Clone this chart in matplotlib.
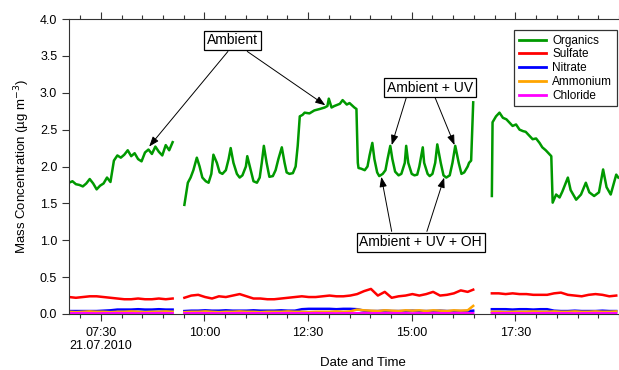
import numpy as np
import pandas as pd
import matplotlib
matplotlib.use("Agg")
import matplotlib.pyplot as plt
import matplotlib.dates as mdates

plt.rcParams["font.family"] = ["Liberation Sans", "DejaVu Sans"]

day = "2010-07-21 "

# organics (green), None marks a gap in the measurement
org_time = [
    "06:44", "06:49", "06:54", "06:59", "07:04", "07:09", "07:14", "07:19",
    "07:24", "07:29", "07:34", "07:39", "07:44", "07:49", "07:54", "07:59",
    "08:04", "08:09", "08:14", "08:19", "08:24", "08:29", "08:34", "08:39",
    "08:44", "08:49", "08:54", "08:59", "09:04", "09:09", "09:14",
    "09:20",
    "09:31", "09:33", "09:36", "09:40", "09:44", "09:49", "09:53", "09:57",
    "10:02", "10:06", "10:10", "10:13", "10:18", "10:22", "10:26", "10:31",
    "10:35", "10:38", "10:42", "10:47", "10:51", "10:55", "11:00", "11:02",
    "11:07", "11:11", "11:16", "11:20", "11:23", "11:26", "11:30", "11:34",
    "11:39", "11:43", "11:47", "11:52", "11:56", "11:59", "12:03", "12:08",
    "12:12", "12:15", "12:18", "12:22", "12:25", "12:32", "12:39", "12:47",
    "12:54", "12:58", "13:00", "13:04", "13:08", "13:16", "13:20", "13:26",
    "13:30", "13:37", "13:40", "13:42", "13:43", "13:47", "13:52", "13:56",
    "13:59", "14:03", "14:06", "14:10", "14:13", "14:18", "14:22", "14:25",
    "14:29", "14:32", "14:36", "14:41", "14:45", "14:50", "14:52", "14:55",
    "15:00", "15:04", "15:08", "15:11", "15:16", "15:18", "15:23", "15:26",
    "15:30", "15:34", "15:37", "15:42", "15:46", "15:50", "15:55", "15:59",
    "16:03", "16:08", "16:12", "16:16", "16:21", "16:23", "16:26", "16:29",
    "16:40",
    "16:56", "16:57", "17:02", "17:07", "17:12", "17:17", "17:21", "17:26",
    "17:31", "17:36", "17:41", "17:45", "17:50", "17:55", "18:00", "18:05",
    "18:09", "18:14", "18:19", "18:22", "18:24", "18:29", "18:34", "18:38",
    "18:46", "18:50", "18:58", "19:05", "19:12", "19:17", "19:24", "19:31",
    "19:37", "19:42", "19:48", "19:56", "19:59",
]
org_conc = [
    1.78, 1.80, 1.76, 1.75, 1.73, 1.77, 1.83, 1.77,
    1.69, 1.74, 1.77, 1.85, 1.79, 2.08, 2.15, 2.12,
    2.16, 2.22, 2.14, 2.18, 2.10, 2.07, 2.19, 2.23,
    2.17, 2.27, 2.20, 2.15, 2.29, 2.22, 2.33,
    None,
    1.48, 1.60, 1.78, 1.85, 1.95, 2.12, 2.00, 1.85,
    1.80, 1.78, 1.90, 2.16, 2.05, 1.92, 1.90, 1.95,
    2.10, 2.25, 2.05, 1.90, 1.85, 1.88, 2.00, 2.14,
    1.95, 1.80, 1.78, 1.85, 2.05, 2.28, 2.05, 1.86,
    1.87, 1.95, 2.10, 2.26, 2.05, 1.92, 1.90, 1.91,
    2.00, 2.28, 2.68, 2.70, 2.73, 2.72, 2.76, 2.78,
    2.80, 2.82, 2.92, 2.80, 2.82, 2.85, 2.90, 2.84,
    2.86, 2.80, 2.78, 2.05, 1.98, 1.97, 1.95, 2.00,
    2.15, 2.32, 2.10, 1.92, 1.87, 1.90, 1.95, 2.10,
    2.28, 2.10, 1.93, 1.88, 1.90, 2.05, 2.28, 2.05,
    1.90, 1.88, 1.89, 2.00, 2.26, 2.05, 1.90, 1.87,
    1.90, 2.05, 2.30, 2.05, 1.88, 1.85, 1.88, 2.05,
    2.28, 2.05, 1.90, 1.92, 2.00, 2.05, 2.08, 2.87,
    None,
    1.60, 2.60, 2.68, 2.73, 2.66, 2.64, 2.60, 2.55,
    2.57, 2.50, 2.48, 2.47, 2.42, 2.37, 2.38, 2.32,
    2.26, 2.22, 2.17, 2.14, 1.51, 1.62, 1.58, 1.66,
    1.85, 1.68, 1.55, 1.62, 1.78, 1.65, 1.60, 1.65,
    1.96, 1.72, 1.62, 1.89, 1.85,
]

# inorganic species on a common 10 min grid
inorg_time = [
    "06:44", "06:54", "07:04", "07:14", "07:24", "07:34", "07:44", "07:54",
    "08:04", "08:14", "08:24", "08:34", "08:44", "08:54", "09:04", "09:14",
    "09:20",
    "09:31", "09:41", "09:51", "10:01", "10:11", "10:21", "10:31", "10:41",
    "10:51", "11:01", "11:11", "11:21", "11:31", "11:41", "11:51", "12:01",
    "12:11", "12:21", "12:31", "12:41", "12:51", "13:01", "13:11", "13:21",
    "13:31", "13:41", "13:51", "14:01", "14:11", "14:21", "14:31", "14:41",
    "14:51", "15:01", "15:11", "15:21", "15:31", "15:41", "15:51", "16:01",
    "16:11", "16:21", "16:29",
    "16:40",
    "16:56", "17:06", "17:16", "17:26", "17:36", "17:46", "17:56", "18:06",
    "18:16", "18:26", "18:36", "18:46", "18:56", "19:06", "19:16", "19:26",
    "19:36", "19:46", "19:56",
]
sulfate = [
    0.23, 0.22, 0.23, 0.24, 0.24, 0.23, 0.22, 0.21,
    0.20, 0.20, 0.21, 0.20, 0.20, 0.21, 0.20, 0.21,
    None,
    0.22, 0.25, 0.26, 0.23, 0.21, 0.24, 0.23, 0.25,
    0.27, 0.24, 0.21, 0.21, 0.20, 0.20, 0.21, 0.22,
    0.23, 0.24, 0.23, 0.23, 0.24, 0.25, 0.24, 0.24,
    0.25, 0.27, 0.31, 0.34, 0.25, 0.30, 0.22, 0.24,
    0.25, 0.27, 0.25, 0.27, 0.30, 0.25, 0.26, 0.28,
    0.32, 0.30, 0.33,
    None,
    0.28, 0.28, 0.27, 0.28, 0.27, 0.27, 0.26, 0.26,
    0.26, 0.28, 0.29, 0.26, 0.25, 0.24, 0.26, 0.27,
    0.26, 0.24, 0.25,
]
nitrate = [
    0.04, 0.04, 0.04, 0.04, 0.04, 0.045, 0.05, 0.06,
    0.06, 0.06, 0.065, 0.06, 0.06, 0.065, 0.06, 0.06,
    None,
    0.04, 0.045, 0.045, 0.05, 0.045, 0.045, 0.05, 0.045,
    0.045, 0.045, 0.05, 0.045, 0.045, 0.045, 0.05, 0.045,
    0.045, 0.065, 0.07, 0.07, 0.07, 0.07, 0.065, 0.07,
    0.07, 0.065, 0.045, 0.04, 0.04, 0.045, 0.04, 0.04,
    0.04, 0.045, 0.04, 0.04, 0.04, 0.045, 0.04, 0.04,
    0.04, 0.04, 0.045,
    None,
    0.065, 0.065, 0.065, 0.06, 0.065, 0.065, 0.06, 0.065,
    0.065, 0.045, 0.04, 0.04, 0.045, 0.04, 0.04, 0.04,
    0.045, 0.04, 0.04,
]
ammonium = [
    0.03, 0.025, 0.03, 0.035, 0.03, 0.03, 0.025, 0.03,
    0.03, 0.035, 0.03, 0.025, 0.03, 0.03, 0.035, 0.03,
    None,
    0.025, 0.03, 0.03, 0.035, 0.03, 0.025, 0.03, 0.03,
    0.035, 0.03, 0.03, 0.025, 0.03, 0.03, 0.03, 0.035,
    0.03, 0.03, 0.025, 0.03, 0.03, 0.03, 0.035, 0.03,
    0.035, 0.06, 0.05, 0.045, 0.04, 0.05, 0.045, 0.04,
    0.05, 0.045, 0.05, 0.04, 0.05, 0.045, 0.04, 0.05,
    0.045, 0.05, 0.11,
    None,
    0.03, 0.03, 0.025, 0.03, 0.03, 0.03, 0.035, 0.03,
    0.03, 0.035, 0.03, 0.03, 0.035, 0.03, 0.03, 0.035,
    0.03, 0.03, 0.035,
]
chloride = [
    0.01, 0.01, 0.012, 0.01, 0.008, 0.01, 0.01, 0.012,
    0.01, 0.01, 0.008, 0.01, 0.01, 0.012, 0.01, 0.01,
    None,
    0.01, 0.01, 0.012, 0.01, 0.01, 0.008, 0.01, 0.01,
    0.012, 0.01, 0.01, 0.01, 0.008, 0.01, 0.01, 0.012,
    0.01, 0.01, 0.01, 0.012, 0.01, 0.01, 0.008, 0.01,
    0.01, 0.01, 0.012, 0.01, 0.01, 0.01, 0.012, 0.01,
    0.01, 0.008, 0.01, 0.01, 0.012, 0.01, 0.01, 0.01,
    0.012, 0.01, 0.01,
    None,
    0.01, 0.01, 0.012, 0.01, 0.01, 0.008, 0.01, 0.01,
    0.012, 0.01, 0.01, 0.01, 0.008, 0.01, 0.01, 0.012,
    0.01, 0.01, 0.01,
]

species = ["Organics", "Sulfate", "Nitrate", "Ammonium", "Chloride"]
colors = ["#009900", "#ff0000", "#0000ff", "#ffa500", "#ff00ff"]


def to_time(times):
    return pd.to_datetime([day + t for t in times])


def tnum(t):
    return mdates.date2num(pd.Timestamp(day + t))


fig = plt.figure(figsize=(6.19, 3.70), dpi=100)
ax = fig.add_axes([69 / 619, 56 / 370, 550 / 619, 295 / 370])

ax.plot(to_time(org_time), np.array(org_conc, dtype=float),
        color=colors[0], lw=1.8, label=species[0])
inorg = [sulfate, nitrate, ammonium, chloride]
for name, col, vals in zip(species[1:], colors[1:], inorg):
    ax.plot(to_time(inorg_time), np.array(vals, dtype=float),
            color=col, lw=1.8, label=name)

ax.set_xlim(tnum("06:44"), tnum("20:00"))
ax.set_ylim(0, 4.0)
ax.set_yticks(np.arange(0, 4.01, 0.5))
ax.yaxis.set_major_formatter(plt.FormatStrFormatter("%.1f"))

major = pd.date_range(day + "07:30", periods=5, freq="150min")
ax.xaxis.set_major_locator(plt.FixedLocator(mdates.date2num(major)))
ax.xaxis.set_minor_locator(mdates.MinuteLocator(byminute=[0, 30]))
labels = [t.strftime("%H:%M") for t in major]
labels[0] = labels[0] + "\n21.07.2010"
ax.set_xticklabels(labels)

ax.spines["right"].set_visible(False)
for s in ["left", "bottom", "top"]:
    ax.spines[s].set_color("#333333")
    ax.spines[s].set_linewidth(0.8)
ax.tick_params(axis="x", which="major", direction="out", length=5,
               top=True, labelsize=9, width=0.8, color="#333333", pad=4)
ax.tick_params(axis="x", which="minor", direction="out", length=3,
               top=True, width=0.8, color="#333333")
ax.tick_params(axis="y", direction="out", length=5, labelsize=9,
               width=0.8, color="#333333")

ax.set_xlabel("Date and Time", fontsize=9.5)
ax.xaxis.set_label_coords((363 - 69) / 550, -0.145)
ax.set_ylabel("Mass Concentration (µg m$^{-3}$)", fontsize=9.5)
ax.yaxis.set_label_coords(-0.068, 0.5)

leg = ax.legend(loc="upper right", bbox_to_anchor=(0.996, 0.963), fontsize=8.5,
                frameon=True, fancybox=False, edgecolor="black",
                handlelength=2.3, labelspacing=0.15, borderpad=0.4,
                handletextpad=0.5, borderaxespad=0)
leg.get_frame().set_linewidth(0.9)
for h in leg.get_lines():
    h.set_linewidth(2)

box = dict(boxstyle="square,pad=0.2", fc="white", ec="black", lw=0.9)
arrow = dict(arrowstyle="-|>,head_length=0.6,head_width=0.22",
             color="black", lw=0.7, shrinkA=0, shrinkB=0)

notes = [
    ("Ambient", ("10:41", 3.71), [(("10:34", 3.56), ("08:40", 2.27)),
                                   (("11:02", 3.56), ("12:55", 2.83))]),
    ("Ambient + UV", ("15:26", 3.07), [(("14:52", 2.93), ("14:31", 2.29)),
                                        (("15:34", 2.93), ("16:02", 2.29))]),
    ("Ambient + UV + OH", ("15:13", 0.97), [(("14:31", 1.12), ("14:16", 1.86)),
                                             (("15:22", 1.12), ("15:47", 1.85))]),
]
for text, (tt, tv), arrows in notes:
    for (st, sv), (et, ev) in arrows:
        ax.annotate("", xy=(tnum(et), ev), xytext=(tnum(st), sv),
                    arrowprops=arrow)
    ax.text(tnum(tt), tv, text, ha="center", va="center", fontsize=10,
            bbox=box, zorder=5)

fig.savefig("out.png", dpi=100)
